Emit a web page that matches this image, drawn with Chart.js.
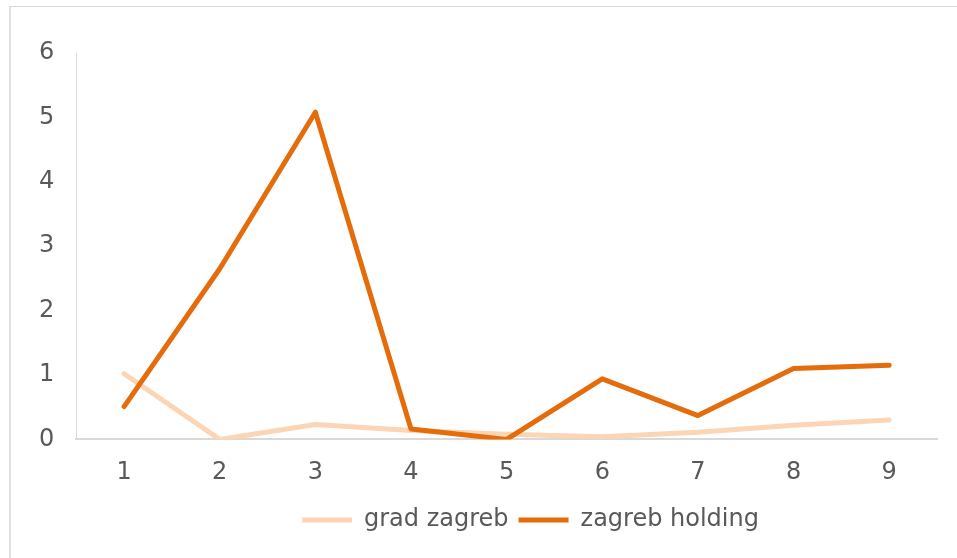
<!DOCTYPE html>
<html>
<head>
<meta charset="utf-8">
<script src="https://cdn.jsdelivr.net/npm/chart.js@4/dist/chart.umd.min.js"></script>
<style>
  html, body { margin: 0; padding: 0; background: #fff; }
  #wrap { position: relative; width: 957px; height: 558px; overflow: hidden; }
  #frame { position: absolute; left: 9px; top: 6px; width: 960px; height: 560px;
           border-top: 1px solid #d9d9d9; border-left: 2px solid #e0e0e0; }
  #chart { position: absolute; left: 0; top: 0; }
</style>
</head>
<body>
<div id="wrap">
  <div id="frame"></div>
  <canvas id="chart" width="957" height="558"></canvas>
</div>
<script>
// Chart data
const categories = ['1', '2', '3', '4', '5', '6', '7', '8', '9'];
const gradZagreb = [1.02, 0, 0.23, 0.14, 0.08, 0.04, 0.11, 0.22, 0.30];
const zagrebHolding = [0.51, 2.65, 5.08, 0.16, 0, 0.94, 0.37, 1.10, 1.15];
const yTicks = [0, 1, 2, 3, 4, 5, 6];

const textColor = '#595959';
const axisColor = '#d9d9d9';
const fontFamily = '"DejaVu Sans", Verdana, sans-serif';
const fontSize = 24;

// Move the legend so it sits where the original one does
const legendShift = {
  id: 'legendShift',
  afterLayout(chart) {
    const legend = chart.legend;
    if (legend) {
      legend.left = 302 - legend.options.labels.padding;
    }
  }
};

const ctx = document.getElementById('chart').getContext('2d');
const chart = new Chart(ctx, {
  type: 'line',
  data: {
    labels: categories,
    datasets: [
      {
        label: 'grad zagreb',
        data: gradZagreb,
        borderColor: '#fcd5b5',
        backgroundColor: '#fcd5b5',
        order: 1
      },
      {
        label: 'zagreb holding',
        data: zagrebHolding,
        borderColor: '#e46c0a',
        backgroundColor: '#e46c0a',
        order: 0
      }
    ]
  },
  options: {
    responsive: false,
    animation: false,
    devicePixelRatio: 1,
    layout: {
      padding: { left: 17, right: 20, top: 53, bottom: 16 }
    },
    elements: {
      line: {
        borderWidth: 5,
        tension: 0,
        borderCapStyle: 'round',
        borderJoinStyle: 'round',
        fill: false
      },
      point: { radius: 0, hoverRadius: 0 }
    },
    scales: {
      x: {
        offset: true,
        afterFit(axis) {
          axis.height = 58.6;
        },
        grid: { display: false, drawTicks: false },
        border: { display: true, color: axisColor, width: 2 },
        ticks: {
          color: textColor,
          padding: 19,
          font: { family: fontFamily, size: fontSize }
        }
      },
      y: {
        min: 0,
        max: 6,
        afterBuildTicks(axis) {
          axis.ticks = yTicks.map(v => ({ value: v }));
        },
        grid: { display: false, drawTicks: false },
        border: { display: true, color: axisColor, width: 1 },
        ticks: {
          color: textColor,
          padding: 22,
          font: { family: fontFamily, size: fontSize }
        }
      }
    },
    plugins: {
      tooltip: { enabled: false },
      legend: {
        position: 'bottom',
        align: 'start',
        labels: {
          color: textColor,
          boxWidth: 50,
          boxHeight: 5,
          padding: 10,
          font: { family: fontFamily, size: fontSize },
          sort: (a, b) => a.datasetIndex - b.datasetIndex,
          generateLabels(chart) {
            const items = Chart.defaults.plugins.legend.labels.generateLabels(chart);
            items.forEach(item => {
              item.lineWidth = 0;
              item.fillStyle = item.strokeStyle;
            });
            return items;
          }
        }
      }
    }
  },
  plugins: [legendShift]
});
</script>
</body>
</html>
